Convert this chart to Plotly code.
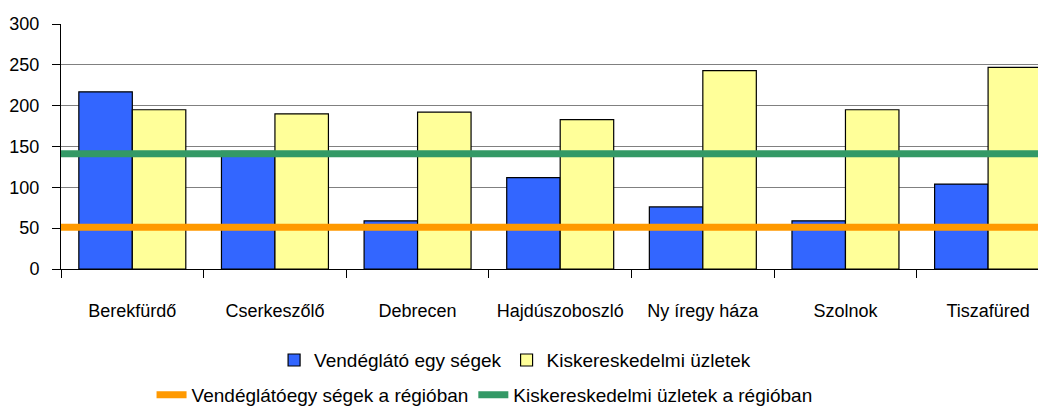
import plotly.graph_objects as go

categories = ["Berekfürdő", "Cserkeszőlő", "Debrecen", "Hajdúszoboszló", "Ny íregy háza", "Szolnok", "Tiszafüred"]
vendeglato = [217, 144, 59, 112, 76, 59, 104]
kiskereskedelmi = [195, 190, 192, 183, 243, 195, 247]
vendeglato_regio = 51
kiskereskedelmi_regio = 141
y_ticks = [0, 50, 100, 150, 200, 250, 300]

FONT = "Liberation Sans, Arial, sans-serif"
FS = 18
LFS = 19
xpos = list(range(len(categories)))
span = [-0.5, len(categories) - 0.5]

fig = go.Figure()
fig.add_trace(go.Bar(x=xpos, y=vendeglato, name="Vendéglátó egy ségek",
                     marker=dict(color="#3366FF", line=dict(color="#000000", width=1.2)),
                     legend="legend"))
fig.add_trace(go.Bar(x=xpos, y=kiskereskedelmi, name="Kiskereskedelmi üzletek",
                     marker=dict(color="#FFFF99", line=dict(color="#000000", width=1.2)),
                     legend="legend"))
fig.add_trace(go.Scatter(x=span, y=[vendeglato_regio] * 2, mode="lines",
                         name="Vendéglátóegy ségek a régióban",
                         line=dict(color="#FF9900", width=7), legend="legend2"))
fig.add_trace(go.Scatter(x=span, y=[kiskereskedelmi_regio] * 2, mode="lines",
                         name="Kiskereskedelmi üzletek a régióban",
                         line=dict(color="#339966", width=7), legend="legend2"))

# page body has an 8px default margin, so the figure is sized/offset to compensate
fig.update_layout(
    width=1038, height=406,
    margin=dict(l=53, r=0, t=16, b=140),
    paper_bgcolor="white", plot_bgcolor="white",
    font=dict(family=FONT, size=FS, color="#000000"),
    barmode="group", bargap=0.25, bargroupgap=0,
    showlegend=True,
    legend=dict(orientation="h", x=0.461, xanchor="center", y=-0.372, yanchor="middle",
                font=dict(size=LFS), itemwidth=30, tracegroupgap=0),
    legend2=dict(orientation="h", x=0.430, xanchor="center", y=-0.515, yanchor="middle",
                 font=dict(size=LFS), itemwidth=30),
)
fig.update_xaxes(
    range=[-0.5, 6.406], tickmode="array", tickvals=xpos, ticktext=categories,
    ticks="", showgrid=False, showline=True, linecolor="#000000", linewidth=1,
    zeroline=False, tickfont=dict(size=FS), automargin=False, ticklabelstandoff=25,
    minor=dict(tickmode="array", tickvals=[i - 0.5 for i in range(len(categories) + 1)],
               ticks="outside", ticklen=8, tickcolor="#000000", showgrid=False),
)
fig.update_yaxes(
    range=[0, 300], tickmode="array", tickvals=y_ticks, ticks="outside", ticklen=8,
    tickcolor="#000000", showgrid=True, gridcolor="#808080", gridwidth=1,
    showline=True, linecolor="#000000", linewidth=1, zeroline=False,
    tickfont=dict(size=FS), ticklabelstandoff=9, automargin=False,
)

fig.write_html("out.html")
